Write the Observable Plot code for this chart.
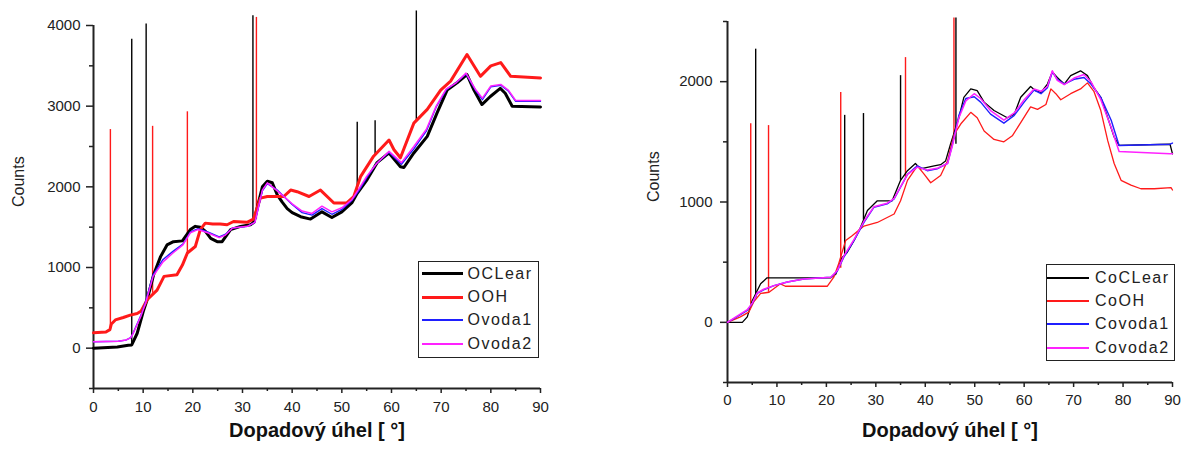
<!DOCTYPE html>
<html><head><meta charset="utf-8">
<script src="https://cdn.jsdelivr.net/npm/d3@7"></script>
<script src="https://cdn.jsdelivr.net/npm/@observablehq/plot@0.6"></script>
<style>
body{margin:0;background:#fff;}
#wrap{position:relative;width:1183px;height:450px;display:flex;}
.legend{position:absolute;box-sizing:border-box;border:1.5px solid #222;background:#fff;font:16px "Liberation Sans",Arial,sans-serif;color:#222;letter-spacing:1.5px;}
.legend .row{display:flex;align-items:center;height:23.4px;}
.legend .sw{display:inline-block;width:41px;margin-right:5px;}
</style></head><body><div id="wrap"></div>
<script>
// ---------- Left chart (O) ----------
const leftClearX = [0,4.8,7,7.7,8.8,10,10.8,12.1,13.5,14.8,16.1,17.9,19.5,20.5,21.5,22.5,23.6,24.9,25.9,27.6,29.6,31.6,32.3,33,34,35,36,37,38,39,40,41.7,43.7,46,48,50,52,53.1,55.1,57.1,59.5,61.8,62.5,64.5,67.2,69.2,71.2,73.2,75.2,76.6,78.2,79.9,81.9,82.9,84.3,90];
const leftClearY = [0,15,35,40,185,450,600,910,1135,1280,1320,1330,1470,1510,1500,1450,1360,1320,1320,1470,1510,1530,1560,1750,2000,2070,2050,1900,1810,1730,1680,1630,1600,1690,1620,1690,1800,1920,2090,2300,2420,2250,2240,2420,2625,2920,3200,3290,3390,3200,3020,3120,3220,3160,3000,2990];
const leftOHX = [0,2.5,3.3,3.6,4.4,6,7.4,8.8,9.6,10.8,12.8,14.2,16.8,17.9,18.9,20.5,21.5,22.5,24,25.5,26.9,28.2,30.9,32.2,33.6,35,38.3,39.7,41,43.4,45.7,48.4,51,52.4,53.8,56.4,59.5,60.5,61.8,64.5,67.2,69.9,71.9,75.2,77.9,80,82,84,90];
const leftOHY = [190,200,230,300,350,380,410,430,460,600,720,890,910,1030,1180,1260,1470,1550,1540,1540,1530,1570,1560,1600,1860,1880,1880,1960,1940,1880,1960,1800,1800,1880,2130,2380,2580,2460,2360,2790,2960,3200,3310,3640,3370,3500,3540,3370,3350];
const leftVodaX = [0,5,6.5,7.5,8,9.5,10.5,12,14,16,18,19.5,21,23,25.3,26.5,28,31,32.5,34,35,37,40,42,44,46,48,50,52,53.5,55,57,59.5,62,64.5,67,69,71,73,75,77,78.3,80,82,83.5,85,90];
const leftVoda1Y = [80,85,100,130,190,400,580,910,1100,1200,1290,1440,1480,1440,1380,1410,1490,1510,1560,1950,2040,1960,1780,1680,1650,1730,1660,1720,1830,1960,2110,2290,2430,2280,2470,2690,2990,3200,3290,3400,3190,3080,3240,3260,3190,3060,3060];
const leftVoda2Y = [80,85,100,130,185,390,560,890,1070,1180,1280,1430,1470,1430,1370,1400,1490,1510,1560,1960,2050,1950,1790,1700,1670,1760,1690,1740,1840,1980,2130,2290,2440,2300,2500,2710,3000,3210,3290,3410,3200,3100,3250,3270,3200,3070,3070];
const leftSpikeClearX = [7.7,10.6,32.1,53.1,56.7,65];
const leftSpikeClearBase = [40,560,1550,1950,2400,2800];
const leftSpikeClearTop = [3830,4020,4120,2800,2820,4180];
const leftSpikeOHX = [3.4,11.9,18.9,32.8];
const leftSpikeOHBase = [230,680,1180,1600];
const leftSpikeOHTop = [2710,2750,2930,4100];
const leftYDomain = [-500,4000];
const leftYMajor = [0,1000,2000,3000,4000];
const leftYMinor = [-500,500,1500,2500,3500];
const leftSeries = ["OCLear","OOH","Ovoda1","Ovoda2"];

// ---------- Right chart (Co) ----------
const rightClearX = [0,3,4,5,6.7,8,20.9,21.9,23.2,24.2,25.6,26.9,28.3,30.3,33.3,35,36.4,38,39,41.8,43.1,44.1,45.1,46.8,47.8,49.2,50.5,51.9,53.9,56.6,58,59.3,61.3,62.3,63.4,64.7,65.7,66.7,68.1,69.4,71.4,72.8,74.1,75.5,76.9,78.2,79.2,89.5,90];
const rightClearY = [0,0,45,180,320,370,370,400,540,580,680,790,930,1010,1010,1180,1260,1320,1275,1300,1310,1340,1480,1700,1870,1940,1925,1830,1760,1700,1730,1870,1960,1925,1910,1980,2080,2035,1980,2050,2090,2050,1950,1870,1700,1540,1470,1480,1400];
const rightOHX = [0,0.6,2.6,4.3,5.3,6.7,8.4,10.7,11.7,18.2,20.2,21.5,22.5,23.9,25.2,27.6,30.3,33.7,35,36.4,38.4,39.8,41.1,43.1,44.5,45.8,47.2,49.2,50.5,51.9,53.9,55.9,57.6,59.3,61.3,62.7,64.4,65.4,66.4,67.4,69.4,71.4,72.8,74.1,75.5,76.9,78.2,79.6,81.6,83.6,86.3,89.7,90];
const rightOHY = [0,10,45,85,170,240,250,320,300,300,300,375,490,680,720,800,830,900,1010,1180,1300,1230,1160,1220,1340,1560,1650,1745,1700,1590,1520,1500,1550,1660,1790,1770,1810,1940,1900,1850,1900,1940,1990,1920,1760,1510,1320,1180,1140,1110,1110,1120,1100];
const rightVodaX = [0,1.3,4,5,6,7.3,9.4,12.1,15.4,20.9,22.2,23.5,25.6,27.6,29.6,32.3,33.7,36.4,38.4,40.4,42.4,44.5,45.5,46.8,48.2,49.9,51.2,53.2,55.9,58,60,62,63.4,64.7,65.7,66.7,68.1,70.1,72.1,73.5,75.5,77.6,79.2,89.5,90];
const rightVoda1Y = [0,30,100,155,240,270,305,335,360,375,425,540,680,830,955,985,1025,1230,1300,1260,1275,1320,1480,1720,1860,1875,1830,1730,1655,1720,1830,1930,1900,1950,2080,2020,1980,2020,2035,1980,1870,1680,1470,1480,1490];
const rightVoda2Y = [0,35,105,160,245,275,305,335,360,375,430,550,690,840,960,990,1030,1230,1290,1265,1280,1320,1470,1700,1840,1900,1860,1760,1680,1740,1850,1940,1920,1960,2090,2010,1975,2030,2060,2000,1850,1620,1420,1400,1400];
const rightSpikeClearX = [5.7,23.7,27.5,35,46.2];
const rightSpikeClearBase = [200,560,850,1180,1480];
const rightSpikeClearTop = [2270,1720,1735,2050,2530];
const rightSpikeOHX = [4.7,8.3,22.9,36,45.8];
const rightSpikeOHBase = [150,250,450,1200,1520];
const rightSpikeOHTop = [1650,1635,1910,2200,2530];
const rightYDomain = [-500,2500];
const rightYMajor = [0,1000,2000];
const rightYMinor = [-500,500,1500,2500];
const rightSeries = ["CoCLear","CoOH","Covoda1","Covoda2"];

// ---------- shared ----------
const xDomain = [0,90];
const xMajor = [0,10,20,30,40,50,60,70,80,90];
const xMinor = [5,15,25,35,45,55,65,75,85];
const xLabel = "Dopadový úhel [ °]";
const yLabel = "Counts";
const colors = ["#000000","#ff1a1a","#1f1fff","#ff22ff"];

const pts = (xs, ys) => xs.map((x, i) => ({x, y: ys[i]}));
const spk = (xs, b, t) => xs.map((x, i) => ({x, b: b[i], t: t[i]}));
const FONT = "'Liberation Sans', Arial, sans-serif";
const plain = d => String(d);

function chart(o) {
  return Plot.plot({
    width: o.width, height: 450,
    marginLeft: o.ml, marginRight: o.mr, marginTop: o.mt, marginBottom: o.mb,
    x: {domain: xDomain, label: null},
    y: {domain: o.yDomain, label: null},
    style: {fontSize: "15px", fontFamily: FONT, color: "#222", background: "#fff", overflow: "visible"},
    marks: [
      Plot.ruleX([xDomain[0]], {stroke: "#222", strokeWidth: 2}),
      Plot.ruleY([o.yDomain[0]], {stroke: "#222", strokeWidth: 2}),
      Plot.axisY({ticks: o.yMajor, tickSize: 7, tickPadding: o.yPad, tickFormat: plain, label: null, fontSize: 15, strokeWidth: 1.5}),
      Plot.axisY({ticks: o.yMinor, tickSize: 4, tickFormat: () => "", label: null, strokeWidth: 1.5}),
      Plot.axisX({ticks: xMajor, tickSize: 5, tickPadding: o.xPad, tickFormat: plain, label: null, fontSize: 15, strokeWidth: 1.5}),
      Plot.axisX({ticks: xMinor, tickSize: 3, tickFormat: () => "", label: null, strokeWidth: 1.5}),
      Plot.text([xLabel], {text: d => d, frameAnchor: "bottom", dy: o.xlDy, fontSize: 20, fontWeight: "bold", fill: "#111"}),
      Plot.text([yLabel], {text: d => d, frameAnchor: "left", dx: o.ylDx, rotate: -90, fontSize: 16, fill: "#222"}),
      Plot.ruleX(o.spikes[0], {x: "x", y1: "b", y2: "t", stroke: colors[0], strokeWidth: 1.4}),
      Plot.ruleX(o.spikes[1], {x: "x", y1: "b", y2: "t", stroke: colors[1], strokeWidth: 1.4}),
      ...o.lines.map((d, i) => Plot.line(d, {x: "x", y: "y", stroke: colors[i], strokeWidth: o.widths[i], strokeLinejoin: "round"}))
    ]
  });
}

const wrap = document.getElementById("wrap");
wrap.appendChild(chart({
  width: 600, ml: 93, mr: 60, mt: 25, mb: 62, yDomain: leftYDomain, yMajor: leftYMajor, yMinor: leftYMinor,
  yPad: 6, xPad: 8, xlDy: 48, ylDx: -75,
  spikes: [spk(leftSpikeClearX, leftSpikeClearBase, leftSpikeClearTop), spk(leftSpikeOHX, leftSpikeOHBase, leftSpikeOHTop)],
  lines: [pts(leftClearX, leftClearY), pts(leftOHX, leftOHY), pts(leftVodaX, leftVoda1Y), pts(leftVodaX, leftVoda2Y)],
  widths: [3, 3, 1.4, 1.5]
}));
wrap.appendChild(chart({
  width: 583, ml: 127, mr: 11, mt: 21, mb: 68, yDomain: rightYDomain, yMajor: rightYMajor, yMinor: rightYMinor,
  yPad: 8, xPad: 7, xlDy: 54, ylDx: -74,
  spikes: [spk(rightSpikeClearX, rightSpikeClearBase, rightSpikeClearTop), spk(rightSpikeOHX, rightSpikeOHBase, rightSpikeOHTop)],
  lines: [pts(rightClearX, rightClearY), pts(rightOHX, rightOHY), pts(rightVodaX, rightVoda1Y), pts(rightVodaX, rightVoda2Y)],
  widths: [1.3, 1.3, 1.4, 1.5]
}));

function legend(names, widths, box) {
  const div = document.createElement("div");
  div.className = "legend";
  Object.assign(div.style, {left: box.left + "px", top: box.top + "px", width: box.w + "px", height: box.h + "px", paddingLeft: box.pl + "px", paddingTop: box.pt + "px"});
  names.forEach((n, i) => {
    const row = document.createElement("div");
    row.className = "row";
    const sw = document.createElement("span");
    sw.className = "sw";
    sw.style.borderTop = widths[i] + "px solid " + colors[i];
    sw.style.width = box.sw + "px";
    sw.style.marginRight = box.gap + "px";
    const t = document.createElement("span");
    t.textContent = n;
    row.appendChild(sw); row.appendChild(t);
    div.appendChild(row);
  });
  wrap.appendChild(div);
}
legend(leftSeries, [3, 3, 2, 2], {left: 418, top: 261, w: 121, h: 97, pl: 2.5, pt: 0, sw: 41, gap: 5});
legend(rightSeries, [2, 2, 2, 2], {left: 1046, top: 264, w: 129, h: 97, pl: 0, pt: 1, sw: 42, gap: 6});
</script></body></html>
